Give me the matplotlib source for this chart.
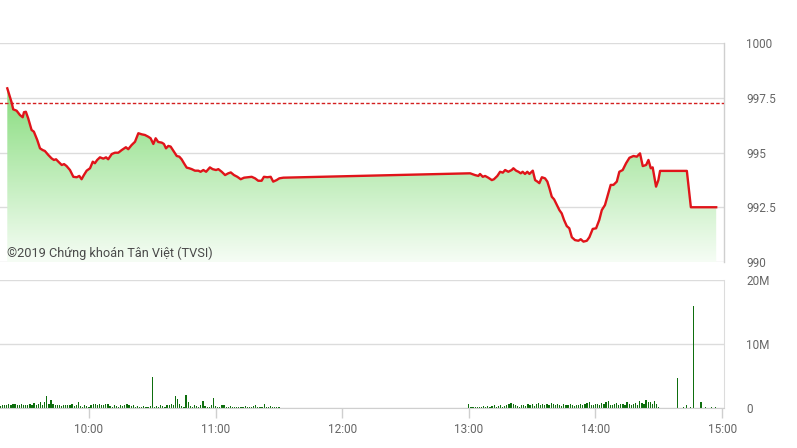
import numpy as np
import matplotlib
matplotlib.use("Agg")
import matplotlib.pyplot as plt
from matplotlib.colors import LinearSegmentedColormap

plt.rcParams['font.family'] = ['Roboto', 'DejaVu Sans']

# ---------------- data ----------------
# price series: minutes after 09:00 and index value
price_min_am = [21.3, 23.4, 24.1, 25.7, 27.3, 28.6, 29.2, 30.1, 31.2, 32.8, 33.9, 35.5, 36.8, 38.1, 39.1,
                40.7, 42.3, 43.4, 44.4, 45.5, 47.1, 48.2, 49.4, 51.0, 52.6, 54.2, 55.4, 56.5, 57.6, 58.9,
                60.5, 61.8, 62.8, 63.9, 65.2, 66.8, 68.1, 69.1, 70.8, 72.3, 73.9, 75.5, 77.5, 78.6, 80.2,
                81.8, 83.4, 85.0, 86.5, 88.1, 89.2, 90.5, 91.6, 92.8, 94.5, 95.5, 96.5, 97.6, 98.7, 100.0,
                101.6, 102.8, 103.9, 105.0, 106.3, 107.5, 108.7, 110.2, 111.8, 112.9, 114.2, 115.5, 117.3,
                118.6, 120.2, 121.3, 122.9, 124.5, 126.0, 127.2, 128.7, 130.3, 131.9, 133.5, 135.5, 137.1,
                138.7, 140.2, 141.8, 142.9, 144.5, 146.1, 147.3, 148.9, 150.2, 152.1]
price_val_am = [997.93, 997.27, 996.97, 996.91, 996.71, 996.61, 996.84, 996.86, 996.56, 996.03, 995.95,
                995.57, 995.19, 995.11, 995.07, 994.89, 994.73, 994.66, 994.69, 994.58, 994.43, 994.47,
                994.38, 994.20, 993.89, 993.87, 993.93, 993.78, 993.97, 994.17, 994.28, 994.58, 994.51,
                994.66, 994.78, 994.72, 994.78, 994.69, 994.93, 994.99, 994.99, 995.11, 995.24, 995.15,
                995.34, 995.49, 995.88, 995.83, 995.80, 995.72, 995.65, 995.39, 995.65, 995.48, 995.45,
                995.39, 995.19, 995.30, 995.27, 995.08, 994.84, 994.81, 994.69, 994.51, 994.31, 994.28,
                994.24, 994.17, 994.17, 994.12, 994.20, 994.12, 994.32, 994.24, 994.20, 994.24, 994.12,
                993.97, 994.05, 994.09, 993.97, 993.89, 993.78, 993.85, 993.87, 993.89, 993.82, 993.71,
                993.71, 993.89, 993.87, 993.89, 993.67, 993.74, 993.82, 993.85]
price_min_pm = [240.6, 242.9, 244.5, 245.3, 246.6, 247.7, 249.2, 250.9, 251.9, 253.5, 254.8, 256.1, 257.2,
                258.7, 260.3, 261.1, 262.4, 263.5, 264.6, 265.5, 266.6, 267.7, 268.7, 270.3, 271.4, 272.5,
                273.4, 274.6, 276.1, 277.2, 278.2, 279.3, 280.4, 281.7, 282.9, 284.0, 285.1, 286.4, 287.6,
                288.8, 290.3, 291.9, 293.0, 294.3, 295.9, 297.1, 298.7, 300.3, 301.8, 303.0, 304.5, 306.1,
                307.2, 308.5, 310.1, 311.3, 312.9, 314.5, 316.1, 318.0, 319.6, 321.1, 322.4, 324.0, 325.1,
                326.2, 327.1, 328.7, 329.8, 330.6, 343.3, 345.2, 357.2]
price_val_pm = [994.05, 993.97, 993.93, 994.02, 993.89, 993.93, 993.85, 993.74, 993.78, 993.93, 994.12,
                994.08, 994.20, 994.12, 994.20, 994.28, 994.17, 994.12, 994.05, 994.12, 994.02, 994.12,
                994.02, 994.17, 993.74, 993.67, 993.60, 993.87, 993.82, 993.67, 993.36, 992.98, 992.86,
                992.60, 992.37, 992.22, 991.92, 991.64, 991.54, 991.13, 991.00, 990.97, 991.04, 990.93,
                990.97, 991.13, 991.51, 991.54, 991.92, 992.37, 992.60, 993.14, 993.52, 993.52, 993.67,
                994.12, 994.20, 994.51, 994.76, 994.84, 994.81, 994.96, 994.38, 994.43, 994.66, 994.28,
                994.32, 993.44, 993.74, 994.16, 994.16, 992.50, 992.50]
reference_level = 997.26

# volume (millions), one bar per minute
vol_am_start, vol_am_end = 18, 150
vol_am = [0.3, 0.4, 0.5, 0.4, 0.6, 0.5, 0.6, 0.7, 0.5, 0.4, 0.6, 0.5,
          0.4, 0.5, 0.6, 0.5, 0.8, 0.4, 0.7, 0.9, 0.5, 1.0,
          1.8, 0.6, 1.2, 0.6, 0.5, 0.4, 0.5, 0.3, 0.4, 0.5,
          0.4, 0.5, 0.6, 0.3, 0.4, 0.9, 0.3, 0.2, 0.4, 0.3,
          0.2, 0.5, 0.7, 0.6, 0.4, 0.6, 0.5, 0.4, 0.6, 0.7,
          0.3, 0.2, 0.4, 0.3, 0.2, 0.4, 0.3, 0.5, 0.6, 0.4,
          0.3, 0.4, 0.2, 0.3, 0.2, 0.2, 0.3, 0.2, 0.2, 0.3,
          4.9, 0.2, 0.3, 0.2, 0.4, 0.3, 0.2, 0.5, 0.4, 0.6,
          0.5, 1.8, 1.4, 0.6, 0.3, 0.2, 2.0, 0.9, 0.3, 0.2,
          0.4, 0.3, 0.2, 0.5, 1.1, 0.3, 0.2, 0.1, 0.4, 1.6,
          0.3, 0.2, 0.1, 0.4, 0.5, 0.1, 0.2, 0.3, 0.1, 0.2,
          0.1, 0.2, 0.1, 0.2, 0.3, 0.1, 0.2, 0.1, 0.3, 0.5,
          0.2, 0.1, 0.2, 0.6, 0.2, 0.1, 0.3, 0.1, 0.1, 0.2, 0.1]
vol_pm_start, vol_pm_end = 240, 330
vol_pm = [0.7, 0.1, 0.1, 0.2, 0.1, 0.2, 0.2, 0.3, 0.2, 0.3,
          0.2, 0.3, 0.4, 0.2, 0.3, 0.5, 0.2, 0.3, 0.4, 0.6,
          0.8, 0.7, 0.5, 0.3, 0.2, 0.4, 0.5, 0.3, 0.6, 0.4,
          0.7, 0.3, 0.6, 0.8, 0.5, 0.7, 0.4, 0.6, 0.5, 0.8,
          0.6, 0.5, 0.7, 0.4, 0.3, 0.6, 0.5, 0.4, 0.6, 0.5,
          0.3, 0.5, 0.4, 0.7, 0.5, 0.6, 0.8, 0.9, 0.5, 0.4,
          0.6, 0.7, 0.5, 0.8, 0.6, 0.9, 1.1, 0.5, 0.4, 0.7,
          0.8, 0.5, 0.6, 0.7, 0.5, 0.9, 0.6, 0.4, 0.7, 0.8,
          0.5, 1.1, 0.8, 0.6, 1.2, 1.0, 0.9, 0.7, 1.1, 0.6, 0.2]
vol_close_min = [338.8, 341.7, 343.0, 345.0, 346.5, 350.0, 352.0, 355.0, 357.0]
vol_close = [4.7, 0.2, 0.5, 0.1, 16.0, 1.0, 0.1, 0.1, 0.1]

price_ticks = [990, 992.5, 995, 997.5, 1000]
price_tick_labels = ["990", "992.5", "995", "997.5", "1000"]
vol_ticks = [0, 10, 20]
vol_tick_labels = ["0", "10M", "20M"]
time_ticks = [60, 120, 180, 240, 300, 360]
time_tick_labels = ["10:00", "11:00", "12:00", "13:00", "14:00", "15:00"]
watermark = "©2019 Chứng khoán Tân Việt (TVSI)"

# ---------------- figure ----------------
W, H = 797, 448
fig = plt.figure(figsize=(W / 100, H / 100), dpi=100)
fig.patch.set_facecolor("white")

XMIN, XMAX = 15.0, 360.9
left = -6 / W
width = 730 / W
ax = fig.add_axes([left, 1 - 262 / H, width, 219 / H])
axv = fig.add_axes([left, 1 - 408 / H, width, 128 / H])

grid_c = "#dcdcdc"
lab_c = "#666666"

# price panel
x = np.array(price_min_am + price_min_pm)
y = np.array(price_val_am + price_val_pm)
ax.set_xlim(XMIN, XMAX)
ax.set_ylim(990, 1000)

poly = ax.fill_between(x, y, 990, facecolor="none", edgecolor="none")
cmap = LinearSegmentedColormap.from_list("g", ["#f6fdf5", "#86dc7c"])
grad = np.linspace(0, 1, 256).reshape(-1, 1)
im = ax.imshow(grad, extent=[XMIN, XMAX, 990, 998], origin="lower", aspect="auto",
               cmap=cmap, zorder=1)
path = poly.get_paths()[0]
im.set_clip_path(path, transform=ax.transData)

for v in price_ticks:
    ax.axhline(v, color=grid_c, lw=1, zorder=0.5)
ax.axhline(reference_level, color="#d42020", lw=1, ls=(0, (2.5, 1.5)), zorder=3)
ax.plot(x, y, color="#e0141a", lw=1.7, zorder=4, solid_joinstyle="round")

ax.set_yticks(price_ticks)
ax.set_yticklabels(price_tick_labels)
ax.yaxis.tick_right()
ax.tick_params(axis="y", length=0, pad=16, labelsize=8.5, labelcolor=lab_c)
ax.set_xticks([])
for s in ["left", "top", "bottom"]:
    ax.spines[s].set_visible(False)
ax.spines["right"].set_color("#cfcfcf")
ax.spines["right"].set_linewidth(1)
fig.text(7 / W, 1 - 257 / H, watermark, fontsize=9.2, color="#4a4a4a",
         va="baseline", ha="left", zorder=6)

# volume panel
axv.set_xlim(XMIN, XMAX)
axv.set_ylim(0, 20)
for v in vol_ticks:
    axv.axhline(v, color=grid_c, lw=1, zorder=0.5)
am_x = np.arange(vol_am_start, vol_am_end + 1)
pm_x = np.arange(vol_pm_start, vol_pm_end + 1)
bar_c = "#0e6e0e"
axv.bar(am_x, vol_am, width=0.6, color=bar_c, zorder=2)
axv.bar(pm_x, vol_pm, width=0.6, color=bar_c, zorder=2)
axv.bar(vol_close_min, vol_close, width=0.6, color=bar_c, zorder=2)

axv.set_yticks(vol_ticks)
axv.set_yticklabels(vol_tick_labels)
axv.yaxis.tick_right()
axv.tick_params(axis="y", length=0, pad=16, labelsize=8.5, labelcolor=lab_c)
axv.set_xticks(time_ticks)
axv.set_xticklabels(time_tick_labels)
axv.tick_params(axis="x", length=7, width=1, color="#cfcfcf", pad=4, labelsize=8.5,
                labelcolor=lab_c)
for s in ["left", "top"]:
    axv.spines[s].set_visible(False)
axv.spines["bottom"].set_color("#cfcfcf")
axv.spines["right"].set_color("#dcdcdc")

fig.savefig("out.png", dpi=100, facecolor="white")
